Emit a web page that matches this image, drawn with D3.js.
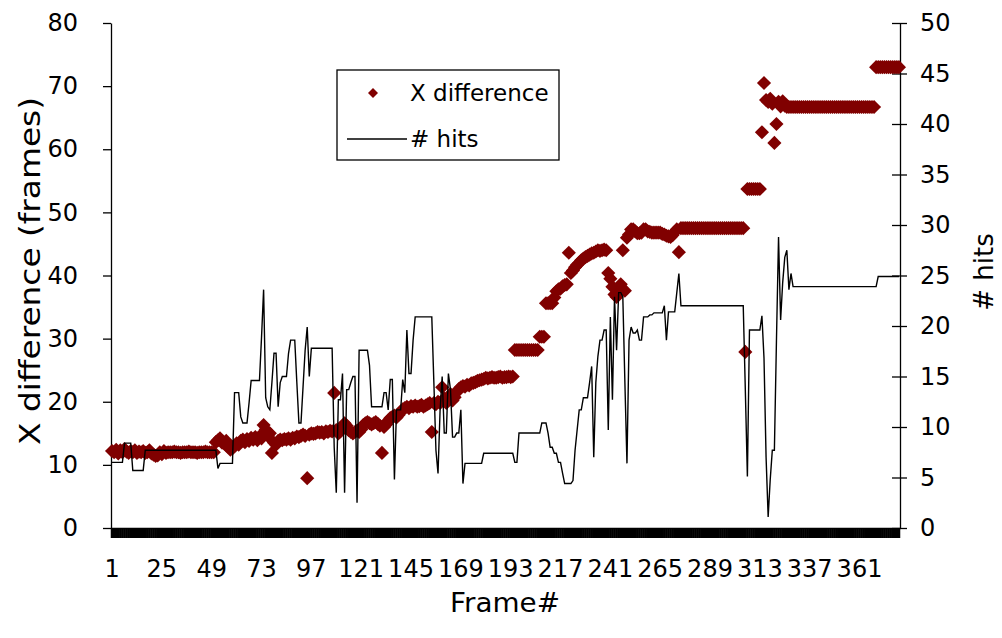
<html><head>
<title>X difference and # hits per frame</title>
<script src="https://d3js.org/d3.v7.min.js"></script>
<style>
  body { margin: 0; background: #fff; }
  svg text { font-family: "DejaVu Sans", sans-serif; fill: #000; }
  .axis path, .axis line { stroke: #000; stroke-width: 1.3; }
  .axis text { font-size: 24px; }
  .hits-line { fill: none; stroke: #000; stroke-width: 1.4; }
</style>
</head>
<body>
<svg id="chart" width="1002" height="638"></svg>

<script>

// data, one value per frame (1..380)
let xDiff = [
  12.2,12.0,12.4,11.8,12.3,12.0,12.5,12.1,11.9,12.2,12.0,12.3,11.9,12.1,12.0,12.2,11.9,12.0,12.3,11.8,
  11.6,11.4,11.5,12.0,11.7,12.2,11.9,12.0,12.0,12.0,12.1,12.0,12.0,11.9,12.0,12.0,12.0,12.1,12.0,12.0,
  12.0,11.9,12.0,12.0,12.0,12.1,12.0,12.0,12.0,12.0,13.6,13.9,14.2,13.5,13.4,13.8,12.8,12.4,12.6,13.0,
  13.4,13.2,13.8,14.0,13.6,14.1,13.8,14.3,14.0,14.4,13.9,14.5,14.2,16.3,15.6,14.6,15.0,11.9,13.5,13.2,
  13.8,14.0,13.9,14.1,14.0,14.2,14.0,14.3,14.2,14.5,14.4,14.6,14.8,14.6,7.9,14.8,15.0,14.9,15.0,15.2,
  15.1,15.2,15.0,15.3,15.2,15.4,15.3,21.4,15.5,15.0,15.3,16.0,16.6,16.2,15.5,15.2,15.0,15.2,15.4,15.2,
  15.6,16.3,16.6,16.8,16.6,16.4,16.6,16.8,16.5,16.2,11.9,16.0,16.4,17.0,17.4,17.6,17.8,17.5,17.9,18.4,
  18.8,19.0,19.2,19.0,19.3,19.2,19.4,19.2,19.3,19.5,19.2,19.4,19.6,19.8,15.2,19.8,19.6,20.0,19.8,22.3,
  20.5,19.8,20.7,21.2,20.2,20.7,21.5,22.0,22.3,22.5,22.4,22.7,22.6,22.9,23.0,23.1,23.3,23.4,23.5,23.6,
  23.8,23.7,23.8,23.9,23.8,23.8,23.9,24.0,23.8,23.9,23.9,24.0,23.9,24.0,28.2,28.2,28.2,28.2,28.2,28.2,
  28.2,28.2,28.2,28.2,28.2,28.2,30.3,30.3,30.3,35.6,35.6,35.6,35.6,36.5,37.5,37.8,37.9,38.3,38.5,38.6,
  43.6,40.4,40.8,41.3,41.7,42.0,42.4,42.7,42.9,43.1,43.3,43.5,43.6,43.8,44.0,43.9,44.0,44.1,44.0,40.4,
  39.5,38.2,37.0,36.6,38.0,38.6,44.0,37.6,46.0,46.5,47.3,47.3,47.0,46.7,46.7,46.8,47.3,47.3,47.0,46.9,
  46.8,46.8,46.8,46.8,46.8,46.6,46.5,46.3,46.2,46.1,46.4,46.9,47.3,43.7,47.5,47.5,47.5,47.5,47.5,47.5,
  47.5,47.5,47.5,47.5,47.5,47.5,47.5,47.5,47.5,47.5,47.5,47.5,47.5,47.5,47.5,47.5,47.5,47.5,47.5,47.5,
  47.5,47.5,47.5,47.5,47.5,27.9,53.7,53.7,53.7,53.7,53.7,53.7,53.7,62.7,70.5,67.8,67.5,68.0,67.2,61.0,
  64.0,67.5,66.8,67.6,66.9,66.7,66.7,66.7,66.7,66.7,66.7,66.7,66.7,66.7,66.7,66.7,66.7,66.7,66.7,66.7,
  66.7,66.7,66.7,66.7,66.7,66.7,66.7,66.7,66.7,66.7,66.7,66.7,66.7,66.7,66.7,66.7,66.7,66.7,66.7,66.7,
  66.7,66.7,66.7,66.7,66.7,66.7,66.7,66.7,73.0,73.0,73.0,73.0,73.0,73.0,73.0,73.0,73.0,73.0,73.0,73.0
];

let hits = [
  6.5,6.5,6.5,6.5,6.5,6.5,8.4,8.4,8.4,8.4,5.7,5.7,5.7,5.7,5.7,5.7,7.7,7.7,7.7,7.7,
  7.7,7.7,7.7,7.7,7.7,7.7,7.7,7.7,7.7,7.7,7.7,7.7,7.7,7.7,7.7,7.7,7.7,7.7,7.7,7.7,
  7.7,7.7,7.7,7.7,7.7,7.7,7.7,7.7,7.7,7.7,7.7,5.9,6.4,6.4,6.4,6.4,6.4,6.4,6.4,13.4,
  13.4,13.4,11.0,10.4,10.4,10.4,12.4,14.6,14.6,14.6,14.6,14.6,18.9,23.6,12.9,12.0,11.7,14.4,17.3,17.3,
  12.0,14.4,15.0,15.0,15.0,17.3,18.6,18.6,18.6,14.4,10.4,10.4,14.0,17.6,19.9,15.0,17.8,17.8,17.8,17.8,
  17.8,17.8,17.8,17.8,17.8,17.8,17.8,8.0,3.5,12.7,12.7,15.3,3.5,13.7,13.7,14.4,15.0,15.0,2.5,17.6,
  17.6,17.6,17.6,17.6,16.1,12.0,12.0,12.0,12.0,12.0,12.0,13.4,13.4,11.7,14.7,14.7,4.8,11.7,11.7,11.7,
  14.7,13.4,19.6,15.3,15.3,18.6,20.9,20.9,20.9,20.9,20.9,20.9,20.9,20.9,20.9,14.4,7.7,5.4,11.7,15.0,
  9.4,9.4,15.3,13.7,9.0,9.0,9.4,9.4,11.7,4.4,6.4,6.4,6.4,6.4,6.4,6.4,6.4,6.4,6.4,7.4,
  7.4,7.4,7.4,7.4,7.4,7.4,7.4,7.4,7.4,7.4,7.4,7.4,7.4,7.4,6.5,6.5,9.4,9.4,9.4,9.4,
  9.4,9.4,9.4,9.4,9.4,9.4,9.4,10.4,10.4,10.4,9.4,8.0,8.0,7.4,7.4,6.5,6.5,5.4,4.4,4.4,
  4.4,4.4,4.7,7.7,9.7,11.7,11.7,12.9,12.9,12.9,14.4,16.0,7.0,14.4,17.0,18.6,18.6,19.6,19.6,9.7,
  20.9,12.7,22.9,17.6,23.3,23.3,22.9,14.4,6.4,18.6,19.9,19.3,19.3,19.6,18.6,18.6,20.9,20.9,20.9,21.1,
  21.1,21.3,21.3,21.3,21.3,21.3,22.0,18.6,21.4,21.4,21.4,21.4,23.3,25.2,22.0,22.0,22.0,22.0,22.0,22.0,
  22.0,22.0,22.0,22.0,22.0,22.0,22.0,22.0,22.0,22.0,22.0,22.0,22.0,22.0,22.0,22.0,22.0,22.0,22.0,22.0,
  22.0,22.0,22.0,22.0,22.0,13.7,5.1,19.6,19.6,19.6,19.6,19.6,19.6,21.0,16.8,7.0,1.1,4.8,7.7,7.7,
  18.6,28.8,20.6,24.3,26.8,27.5,23.6,25.2,23.9,23.9,23.9,23.9,23.9,23.9,23.9,23.9,23.9,23.9,23.9,23.9,
  23.9,23.9,23.9,23.9,23.9,23.9,23.9,23.9,23.9,23.9,23.9,23.9,23.9,23.9,23.9,23.9,23.9,23.9,23.9,23.9,
  23.9,23.9,23.9,23.9,23.9,23.9,23.9,23.9,23.9,24.9,24.9,24.9,24.9,24.9,24.9,24.9,24.9,24.9,24.9,24.9
];

let frames = d3.range(1, xDiff.length + 1);
let xTickLabels = [1, 25, 49, 73, 97, 121, 145, 169, 193, 217, 241, 265, 289, 313, 337, 361];
let leftTicks = [0, 10, 20, 30, 40, 50, 60, 70, 80];
let rightTicks = [0, 5, 10, 15, 20, 25, 30, 35, 40, 45, 50];

// 1. Housekeeping
let svg = d3.select("svg#chart");
let plot = { left: 111, right: 900, top: 23, bottom: 528 };
let red = "#800000";

// 2. Scales
let xScale = d3.scaleBand().domain(frames).range([plot.left, plot.right]);
let yLeft = d3.scaleLinear().domain([0, 80]).range([plot.bottom, plot.top]);
let yRight = d3.scaleLinear().domain([0, 50]).range([plot.bottom, plot.top]);
let cx = d => xScale(d) + xScale.bandwidth() / 2;

// 3. Axes
//      X: a tick for every frame (they merge into a black band), labels every 24 frames
svg.append("g")
  .attr("class", "axis")
  .attr("transform", "translate(0," + plot.bottom + ")")
  .call(d3.axisBottom(xScale).tickSize(10).tickSizeOuter(0).tickFormat(""))
  .selectAll(".tick line").style("stroke-width", 2.6);

svg.append("g")
  .attr("class", "axis")
  .attr("transform", "translate(0," + plot.bottom + ")")
  .call(d3.axisBottom(xScale).tickValues(xTickLabels).tickSize(0).tickPadding(32))
  .call(g => g.select(".domain").remove());

//      Y left
svg.append("g")
  .attr("class", "axis")
  .attr("transform", "translate(" + plot.left + ",0)")
  .call(d3.axisLeft(yLeft).tickValues(leftTicks).tickSize(8).tickSizeOuter(0).tickPadding(25));

//      Y right, ticks cross the axis line
svg.append("g")
  .attr("class", "axis")
  .attr("transform", "translate(" + plot.right + ",0)")
  .call(d3.axisRight(yRight).tickValues(rightTicks).tickSize(7).tickSizeOuter(0).tickPadding(13))
  .call(g => g.selectAll(".tick line").attr("x1", -8));

// axis titles
svg.append("text")
  .attr("transform", "translate(30,271) rotate(-90)")
  .attr("text-anchor", "middle")
  .attr("dominant-baseline", "central")
  .attr("textLength", 348)
  .attr("lengthAdjust", "spacingAndGlyphs")
  .style("font-size", "28px")
  .text("X difference (frames)");

svg.append("text")
  .attr("transform", "translate(984,272) rotate(-90)")
  .attr("text-anchor", "middle")
  .attr("dominant-baseline", "central")
  .style("font-size", "26px")
  .text("# hits");

svg.append("text")
  .attr("x", 505)
  .attr("y", 612)
  .attr("text-anchor", "middle")
  .attr("textLength", 110)
  .attr("lengthAdjust", "spacingAndGlyphs")
  .style("font-size", "27px")
  .text("Frame#");

// 4. X difference markers (diamonds)
let diamond = d3.symbol().type(d3.symbolSquare).size(100);
svg.append("g")
  .selectAll("path")
  .data(frames)
  .join("path")
  .attr("d", diamond)
  .attr("transform", d => "translate(" + cx(d) + "," + yLeft(xDiff[d - 1]) + ") rotate(45)")
  .attr("fill", red);

// 5. # hits line on top
let hitsLine = d3.line()
  .x(d => cx(d))
  .y(d => yRight(hits[d - 1]));

svg.append("path")
  .datum(frames)
  .attr("class", "hits-line")
  .attr("d", hitsLine);

// 6. Legend
let legend = svg.append("g").attr("transform", "translate(337,70)");
legend.append("rect")
  .attr("width", 222).attr("height", 90)
  .attr("fill", "#fff").attr("stroke", "#000").attr("stroke-width", 1.3);
legend.append("path")
  .attr("d", d3.symbol().type(d3.symbolSquare).size(50))
  .attr("transform", "translate(36,23) rotate(45)")
  .attr("fill", red);
legend.append("line")
  .attr("x1", 10).attr("x2", 70).attr("y1", 69).attr("y2", 69)
  .attr("stroke", "#000").attr("stroke-width", 1.4);
legend.selectAll("text.lab")
  .data(["X difference", "# hits"])
  .join("text")
  .attr("class", "lab")
  .attr("x", 73)
  .attr("y", (d, i) => i ? 69 : 23)
  .attr("dominant-baseline", "central")
  .style("font-size", "23px")
  .text(d => d);

</script>
</body>
</html>
